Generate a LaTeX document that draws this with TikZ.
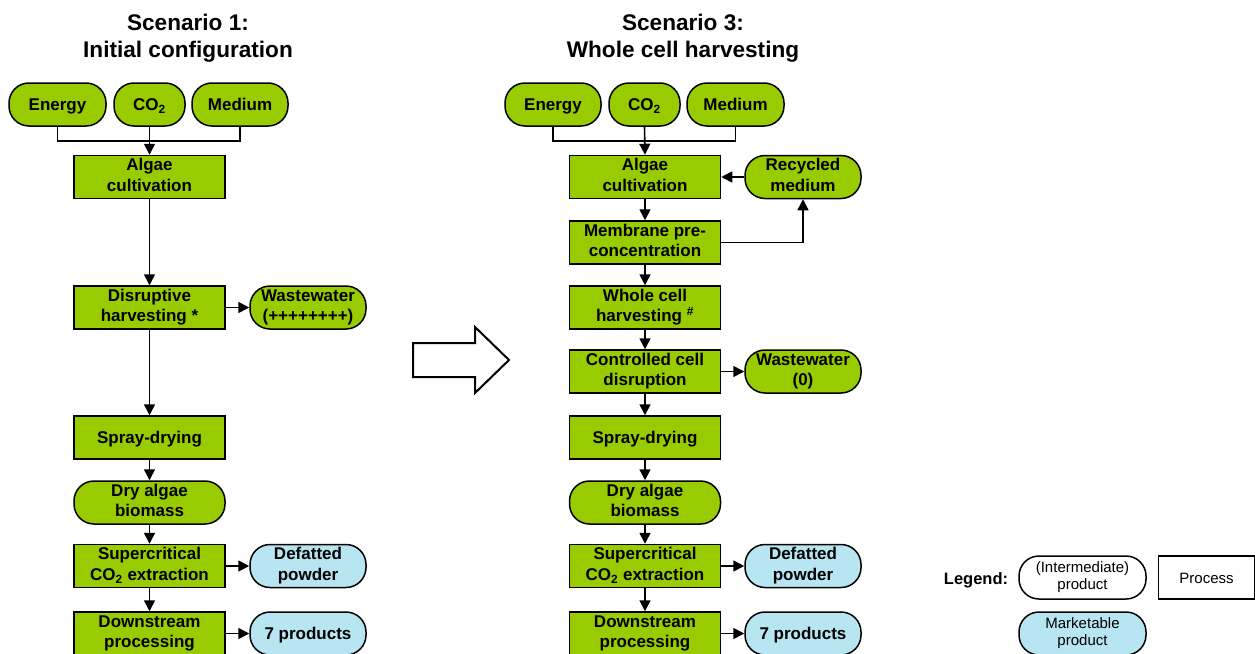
\documentclass[tikz,border=0pt]{standalone}
\usepackage{fontspec}
\setmainfont{Liberation Sans}
\usetikzlibrary{arrows.meta}
\definecolor{algaegreen}{RGB}{153,204,0}
\definecolor{marketblue}{RGB}{183,230,242}
% invisible rules that fix the vertical placement of node text
\newcommand\boxstrut{\rule[-4pt]{0pt}{20.5pt}}
\newcommand\legstrut{\rule[-3.5pt]{0pt}{17pt}}
\tikzset{
  base/.style={draw=black, line width=1.5pt, inner sep=0pt, align=center,
    font=\fontsize{17}{20.5}\selectfont\bfseries,
    execute at begin node=\boxstrut, execute at end node=\boxstrut},
  procbox/.style={base, fill=algaegreen, minimum width=151pt, minimum height=43pt},
  prodbox/.style={base, fill=algaegreen, rounded corners=20pt, minimum height=43pt},
  mktbox/.style={prodbox, fill=marketblue},
  sidebox/.style={minimum width=116pt},
  legendtext/.style={font=\fontsize{15}{17}\selectfont\mdseries,
    execute at begin node=\legstrut, execute at end node=\legstrut},
  titletext/.style={font=\fontsize{22.6}{27}\selectfont\bfseries, anchor=base},
  arr/.style={line width=1.6pt, -{Triangle[length=11pt,width=11pt]}},
  plain/.style={line width=1.6pt}
}
\begin{document}
\begin{tikzpicture}[x=1pt,y=-1pt]
\useasboundingbox (0,0) rectangle (1255,653);

% ---------- Scenario 1 ----------
\node[titletext] (t1a) at (188,30) {Scenario 1:};
\node[titletext] (t1b) at (188,57) {Initial configuration};

\node[prodbox, minimum width=97pt] (e1) at (57.5,104.5) {Energy};
\node[prodbox, minimum width=71pt] (c1) at (149.5,104.5) {CO\textsubscript{2}};
\node[prodbox, minimum width=96pt] (m1) at (240,104.5) {Medium};

\node[procbox] (alg1) at (149.5,177) {Algae\\cultivation};
\node[procbox] (dis1) at (149.5,307.5) {Disruptive\\harvesting *};
\node[prodbox, sidebox] (ww1) at (308,307.5) {Wastewater\\(++++++++)};
\node[procbox] (spr1) at (149.5,437.5) {Spray-drying};
\node[prodbox, minimum width=151pt] (dry1) at (149.5,502.5) {Dry algae\\biomass};
\node[procbox] (sc1) at (149.5,566) {Supercritical\\CO\textsubscript{2} extraction};
\node[mktbox, sidebox] (def1) at (308,566) {Defatted\\powder};
\node[procbox] (ds1) at (149.5,633.5) {Downstream\\processing};
\node[mktbox, sidebox] (pr1) at (308,633.5) {7 products};

\coordinate (j1) at (149.5,141);
\draw[plain] (e1.south) |- (j1) -| (m1.south);
\draw[arr] (c1.south) -- (alg1.north);
\draw[arr] (alg1) -- (dis1);
\draw[arr] (dis1) -- (ww1);
\draw[arr] (dis1) -- (spr1);
\draw[arr] (spr1) -- (dry1);
\draw[arr] (dry1) -- (sc1);
\draw[arr] (sc1) -- (def1);
\draw[arr] (sc1) -- (ds1);
\draw[arr] (ds1) -- (pr1);

% ---------- transition arrow ----------
\draw[line width=2pt, line join=miter]
  (413,343) -- (475,343) -- (475,327) -- (509,360) -- (475,393) -- (475,377) -- (413,377) -- cycle;

% ---------- Scenario 3 ----------
\node[titletext] (t3a) at (683,30) {Scenario 3:};
\node[titletext] (t3b) at (683,57) {Whole cell harvesting};

\node[prodbox, minimum width=96pt] (e3) at (553,104.5) {Energy};
\node[prodbox, minimum width=71pt] (c3) at (644.5,104.5) {CO\textsubscript{2}};
\node[prodbox, minimum width=97pt] (m3) at (735.5,104.5) {Medium};

\node[procbox] (alg3) at (645,177) {Algae\\cultivation};
\node[prodbox, sidebox] (rec3) at (803,177) {Recycled\\medium};
\node[procbox] (mem3) at (645,242.5) {Membrane pre-\\concentration};
\node[procbox] (who3) at (645,307.5) {Whole cell\\harvesting \textsuperscript{\#}};
\node[procbox] (ctl3) at (645,371.5) {Controlled cell\\disruption};
\node[prodbox, sidebox] (ww3) at (803,371.5) {Wastewater\\(0)};
\node[procbox] (spr3) at (645,437.5) {Spray-drying};
\node[prodbox, minimum width=151pt] (dry3) at (645,502.5) {Dry algae\\biomass};
\node[procbox] (sc3) at (645,566) {Supercritical\\CO\textsubscript{2} extraction};
\node[mktbox, sidebox] (def3) at (803,566) {Defatted\\powder};
\node[procbox] (ds3) at (645,633.5) {Downstream\\processing};
\node[mktbox, sidebox] (pr3) at (803,633.5) {7 products};

\coordinate (j3) at (644.5,141);
\draw[plain] (e3.south) |- (j3) -| (m3.south);
\draw[arr] (c3.south) -- (alg3.north);
\draw[arr] (rec3) -- (alg3);
\draw[arr] (alg3) -- (mem3);
\draw[arr] (mem3.east) -| (rec3.south);
\draw[arr] (mem3) -- (who3);
\draw[arr] (who3) -- (ctl3);
\draw[arr] (ctl3) -- (ww3);
\draw[arr] (ctl3) -- (spr3);
\draw[arr] (spr3) -- (dry3);
\draw[arr] (dry3) -- (sc3);
\draw[arr] (sc3) -- (def3);
\draw[arr] (sc3) -- (ds3);
\draw[arr] (ds3) -- (pr3);

% ---------- legend ----------
\node[font=\fontsize{16.5}{20}\selectfont\bfseries, anchor=base] (lg) at (976,584) {Legend:};
\node[base, fill=white, rounded corners=20pt, minimum width=127pt, minimum height=43pt, legendtext] (lgi) at (1082.5,577.5) {(Intermediate)\\product};
\node[base, fill=white, minimum width=96pt, minimum height=43pt, legendtext] (lgp) at (1206.5,577.5) {Process};
\node[base, fill=marketblue, rounded corners=20pt, minimum width=127pt, minimum height=43pt, legendtext] (lgm) at (1082.5,633.5) {Marketable\\product};
\end{tikzpicture}
\end{document}
